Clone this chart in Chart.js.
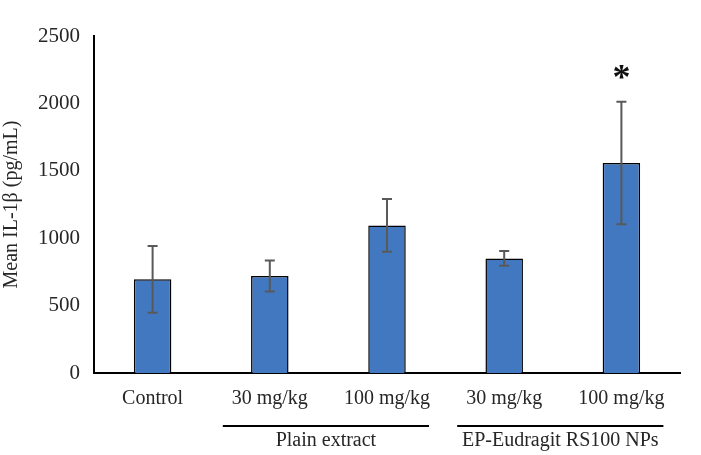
<!DOCTYPE html>
<html>
<head>
<meta charset="utf-8">
<script src="https://cdn.jsdelivr.net/npm/chart.js@4"></script>
<style>
html,body{margin:0;padding:0;background:#fff;}
#wrap{width:701px;height:455px;}
</style>
</head>
<body>
<div id="wrap"><canvas id="c" width="701" height="455"></canvas></div>
<script>
const categories = ["Control", "30 mg/kg", "100 mg/kg", "30 mg/kg", "100 mg/kg"];
const meanValues = [695, 720, 1095, 850, 1558];
const errorValues = [248, 115, 195, 55, 455];
const groupLabels = ["Plain extract", "EP-Eudragit RS100 NPs"];
const groupRanges = [[1, 2], [3, 4]];
const significance = ["", "", "", "", "*"];
const yTicks = [0, 500, 1000, 1500, 2000, 2500];

const FONT = "'Liberation Serif', 'Times New Roman', serif";
const TEXT = "#262626";

const extras = {
  id: 'extras',
  afterDatasetsDraw(chart) {
    const ctx = chart.ctx;
    const x = chart.scales.x, y = chart.scales.y;
    ctx.save();
    // error bars
    ctx.strokeStyle = '#595959';
    ctx.lineWidth = 2;
    meanValues.forEach((v, i) => {
      const px = x.getPixelForValue(i);
      const top = y.getPixelForValue(v + errorValues[i]);
      const bot = y.getPixelForValue(v - errorValues[i]);
      ctx.beginPath();
      ctx.moveTo(px, top); ctx.lineTo(px, bot);
      ctx.moveTo(px - 5, top); ctx.lineTo(px + 5, top);
      ctx.moveTo(px - 5, bot); ctx.lineTo(px + 5, bot);
      ctx.stroke();
    });
    // significance marks
    ctx.fillStyle = '#111';
    ctx.font = "bold 36px " + FONT;
    ctx.textAlign = 'center';
    ctx.textBaseline = 'middle';
    significance.forEach((s, i) => {
      if (!s) return;
      const px = x.getPixelForValue(i);
      const top = y.getPixelForValue(meanValues[i] + errorValues[i]);
      ctx.fillText(s, px, top - 22);
    });
    // group lines and labels
    ctx.strokeStyle = '#000';
    ctx.lineWidth = 2;
    ctx.fillStyle = TEXT;
    ctx.font = "20px " + FONT;
    ctx.textBaseline = 'middle';
    groupRanges.forEach((r, gi) => {
      const a = x.getPixelForValue(r[0]);
      const b = x.getPixelForValue(r[1]);
      const lx = a - 47, rx = b + 42;
      const ly = chart.chartArea.bottom + 53;
      ctx.beginPath();
      ctx.moveTo(lx, ly); ctx.lineTo(rx, ly);
      ctx.stroke();
      ctx.fillText(groupLabels[gi], (lx + rx) / 2, ly + 15);
    });
    ctx.restore();
  }
};

new Chart(document.getElementById('c'), {
  type: 'bar',
  data: {
    labels: categories,
    datasets: [{
      data: meanValues,
      backgroundColor: '#4178C0',
      borderColor: '#000',
      borderWidth: 1.5,
      categoryPercentage: 1.0,
      barPercentage: 0.32
    }]
  },
  options: {
    responsive: false,
    animation: false,
    layout: { padding: { top: 36, right: 21, left: 0, bottom: 0 } },
    plugins: { legend: { display: false }, tooltip: { enabled: false } },
    scales: {
      x: {
        grid: { display: false, drawTicks: false },
        border: { color: '#000', width: 2 },
        ticks: { color: TEXT, font: { family: FONT, size: 20 }, padding: 14, maxRotation: 0, autoSkip: false },
        afterFit(s) { s.height = 82; }
      },
      y: {
        min: 0, max: 2500,
        afterBuildTicks(s) { s.ticks = yTicks.map(v => ({ value: v })); },
        grid: { display: false, drawTicks: false },
        border: { color: '#000', width: 2 },
        ticks: { color: TEXT, font: { family: FONT, size: 21 }, padding: 14, callback: v => String(v) },
        title: { display: true, text: 'Mean IL-1β (pg/mL)', color: TEXT, font: { family: FONT, size: 20 }, padding: { top: 0, bottom: 4 } },
        afterFit(s) { s.width = 94; }
      }
    }
  },
  plugins: [extras]
});
</script>
</body>
</html>
